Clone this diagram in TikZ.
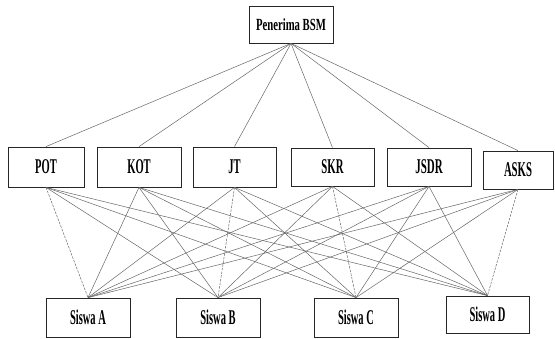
\documentclass[tikz,border=0pt]{standalone}
\usepackage{fontspec}
\setmainfont{Liberation Serif}
\usepackage{graphicx}
\begin{document}
\begin{tikzpicture}[x=1pt,y=-1pt,
  box/.style={draw=black!85,line width=0.8pt,fill=white,inner sep=0pt,
    font=\bfseries\fontsize{21}{22}\selectfont},
  topbox/.style={box,font=\bfseries\fontsize{17}{18}\selectfont},
  link/.style={draw=black!60,line width=0.5pt},
  dlink/.style={link,dash pattern=on 2.5pt off 1.2pt}]
\useasboundingbox (0,0) rectangle (555,339);
% top
\node[topbox,minimum width=84pt,minimum height=37pt] (P) at (291,24.5) {\scalebox{0.63}[1]{Penerima BSM}};
% middle
\node[box,minimum width=76pt,minimum height=40pt] (POT) at (46,167) {\scalebox{0.5}[1]{POT}};
\node[box,minimum width=84pt,minimum height=40pt] (KOT) at (139,167) {\scalebox{0.5}[1]{KOT}};
\node[box,minimum width=83pt,minimum height=40pt] (JT) at (234.5,167) {\scalebox{0.5}[1]{JT}};
\node[box,minimum width=83pt,minimum height=38pt] (SKR) at (332.5,167) {\scalebox{0.51}[1]{SKR}};
\node[box,minimum width=84pt,minimum height=38pt] (JSDR) at (429,167) {\scalebox{0.52}[1]{JSDR}};
\node[box,minimum width=70pt,minimum height=38pt] (ASKS) at (518,170) {\scalebox{0.51}[1]{ASKS}};
% bottom
\node[box,minimum width=84pt,minimum height=39pt] (A) at (88,317.5) {\scalebox{0.5}[1]{Siswa A}};
\node[box,minimum width=84pt,minimum height=39pt] (B) at (218,317.5) {\scalebox{0.5}[1]{Siswa B}};
\node[box,minimum width=84pt,minimum height=39pt] (C) at (356,317.5) {\scalebox{0.5}[1]{Siswa C}};
\node[box,minimum width=83pt,minimum height=37pt] (D) at (487.5,314.5) {\scalebox{0.5}[1]{Siswa D}};
% top links
\foreach \m in {POT,KOT,JT,SKR,JSDR,ASKS}
  \draw[link] (P.south) -- (\m.north);
% lower links (solid)
\foreach \s in {B,C,D} \draw[link] (POT.south) -- (\s.north);
\foreach \s in {A,B,C,D} \draw[link] (KOT.south) -- (\s.north);
\foreach \s in {A,C,D} \draw[link] (JT.south) -- (\s.north);
\foreach \s in {A,B,D} \draw[link] (SKR.south) -- (\s.north);
\foreach \s in {A,B,C,D} \draw[link] (JSDR.south) -- (\s.north);
\foreach \s in {A,B,C} \draw[link] (ASKS.south) -- (\s.north);
% lower links (dashed)
\draw[dlink] (POT.south) -- (A.north);
\draw[dlink] (JT.south) -- (B.north);
\draw[dlink] (SKR.south) -- (C.north);
\draw[dlink] (ASKS.south) -- (D.north);
\end{tikzpicture}
\end{document}
